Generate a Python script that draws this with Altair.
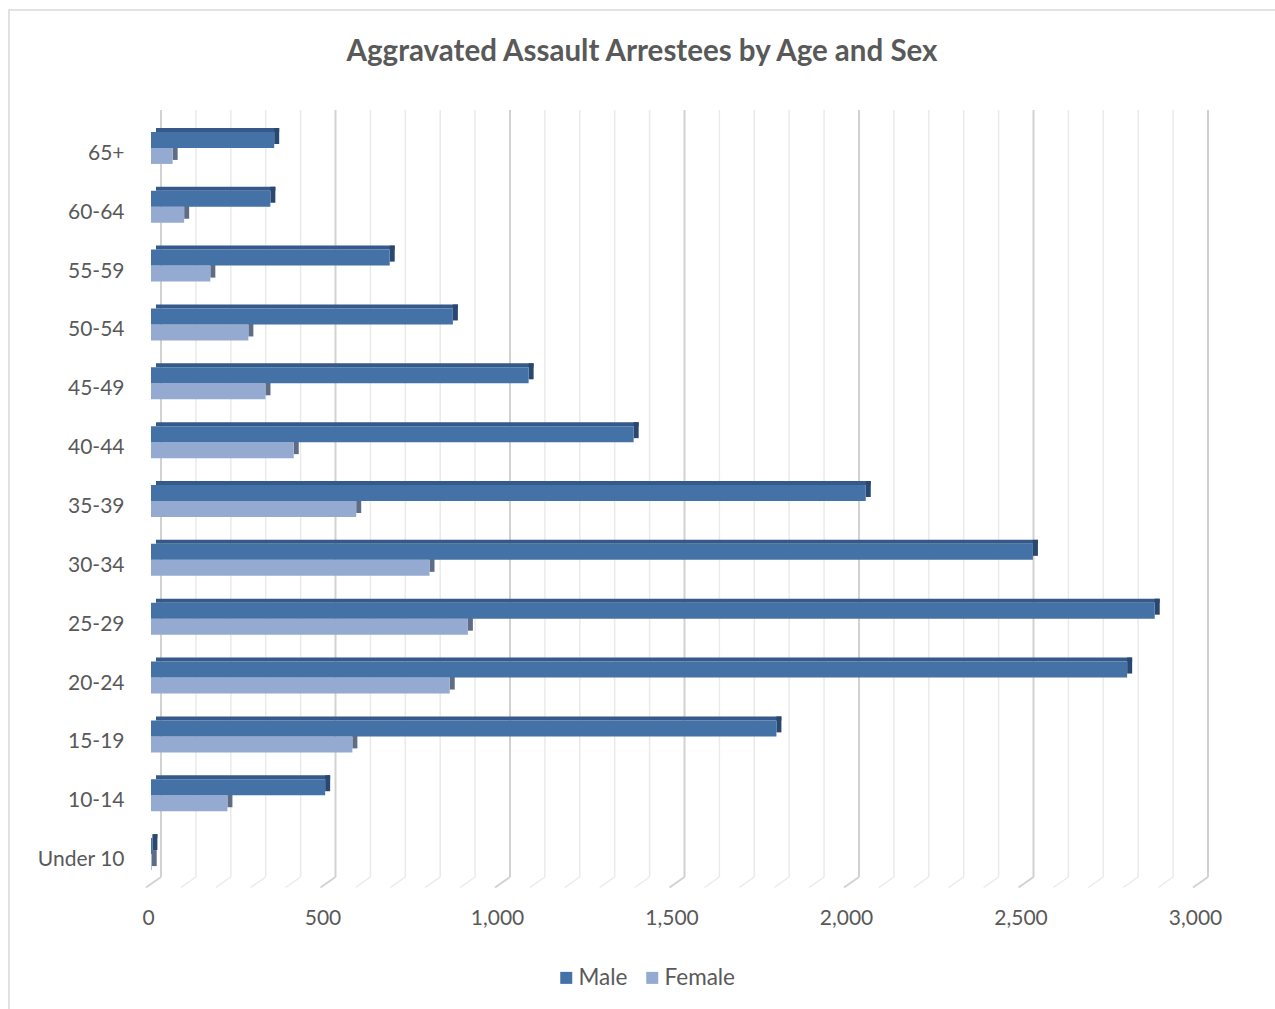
import altair as alt
import pandas as pd

# Arrestee counts by age group (top to bottom) and sex
ages = ["65+", "60-64", "55-59", "50-54", "45-49", "40-44", "35-39",
        "30-34", "25-29", "20-24", "15-19", "10-14", "Under 10"]
male = [353, 342, 684, 865, 1082, 1383, 2048, 2527, 2876, 2797, 1792, 499, 4]
female = [62, 95, 170, 279, 328, 409, 588, 798, 908, 856, 577, 219, 2]
x_ticks = [0, 500, 1000, 1500, 2000, 2500, 3000]

TITLE = "Aggravated Assault Arrestees by Age and Sex"
FONT = "Lato"
TEXT = "#595959"
MALE_FRONT, MALE_TOP, MALE_SIDE = "#4472A6", "#34598A", "#2A4770"
FEMALE_FRONT, FEMALE_SIDE = "#95AAD0", "#5E6C86"

W, H = 1047, 765
PAD = {"left": 151, "top": 122.5, "right": 77, "bottom": 121.5}
DEPTH = 5  # horizontal depth of the extruded bars, px

rows = []
for a, m, f in zip(ages, male, female):
    rows.append({"age": a, "sex": "Male", "count": m})
    rows.append({"age": a, "sex": "Female", "count": f})
df = pd.DataFrame(rows)

grid = pd.DataFrame({"tick": list(range(0, 3001, 100))})
grid["major"] = grid["tick"] % 500 == 0
one = pd.DataFrame({"k": [0]})

x_scale = alt.Scale(domain=[0, 3000], nice=False, zero=True)
y_scale = alt.Scale(domain=ages, paddingInner=0, paddingOuter=0)

X_AXIS = alt.Axis(
    title=None, values=x_ticks, format=",.0f", grid=False, domain=False,
    ticks=False, labelPadding=20, labelOffset=-3, labelFont=FONT,
    labelFontSize=21, labelColor=TEXT, labelFlush=False,
)
Y_AXIS = alt.Axis(
    title=None, ticks=False, domain=False, labelPadding=27, labelOffset=2,
    grid=False, labelFont=FONT, labelFontSize=21, labelColor=TEXT,
)

def X(field="count"):
    return alt.X(f"{field}:Q", scale=x_scale, axis=X_AXIS)

Y = alt.Y("age:N", scale=y_scale, sort=ages, axis=Y_AXIS)

# Border around the whole chart
border = alt.Chart(one).mark_rect(
    fillOpacity=0, stroke="#D9D9D9", strokeWidth=1.5, clip=False
).encode(
    x=alt.value(-142), x2=alt.value(1300),
    y=alt.value(-112.5), y2=alt.value(1000),
)

# Pseudo-3D gridlines: back wall verticals and slanted floor strokes
def grid_layer(major):
    sub = grid[grid["major"] == major]
    color = "#D2D2D2" if major else "#EAEAEA"
    width = 2 if major else 1.5
    wall = alt.Chart(sub).mark_rule(
        color=color, strokeWidth=width, xOffset=10
    ).encode(x=X("tick"), y=alt.value(-12.5), y2=alt.value(754.5))
    floor = alt.Chart(sub).mark_rule(
        color=color, strokeWidth=width, xOffset=10, x2Offset=-5
    ).encode(x=X("tick"), x2="tick:Q", y=alt.value(754.5), y2=alt.value(765))
    return wall + floor

color_enc = alt.Color(
    "sex:N",
    scale=alt.Scale(domain=["Male", "Female"], range=[MALE_FRONT, FEMALE_FRONT]),
    legend=alt.Legend(
        title=None, orient="none", legendX=404, legendY=844,
        direction="horizontal", symbolType="square", symbolSize=144,
        symbolStrokeWidth=0, labelFont=FONT, labelFontSize=22.5,
        labelColor=TEXT, columnPadding=13, labelOffset=1,
    ),
)

def sex_data(sex):
    return alt.Chart(df).transform_filter(alt.datum.sex == sex)

# Male bars: front face centred 12px above the band centre, female 4px below
m_top = sex_data("Male").mark_bar(
    size=4, yOffset=-22, xOffset=DEPTH, x2Offset=DEPTH, color=MALE_TOP
).encode(x=X(), y=Y)
m_side = sex_data("Male").mark_bar(
    size=16, yOffset=-16, xOffset=0, x2Offset=DEPTH, color=MALE_SIDE
).encode(x=X(), x2="count:Q", y=Y)
f_side = sex_data("Female").mark_bar(
    size=16, yOffset=0, xOffset=0, x2Offset=DEPTH, color=FEMALE_SIDE
).encode(x=X(), x2="count:Q", y=Y)
f_face = sex_data("Female").mark_bar(size=16, yOffset=4).encode(
    x=X(), y=Y, color=color_enc
)
m_face = sex_data("Male").mark_bar(size=16, yOffset=-12).encode(
    x=X(), y=Y, color=color_enc
)

title = alt.Chart(one).mark_text(
    text=TITLE, font=FONT, fontSize=29.5, fontWeight="bold", color=TEXT,
    align="center", baseline="middle",
).encode(x=alt.value(491), y=alt.value(-71))

chart = alt.layer(
    border, grid_layer(False), grid_layer(True),
    m_top, f_side, m_side, f_face, m_face, title,
).properties(
    width=W, height=H,
    padding=PAD,
    autosize=alt.AutoSizeParams(type="none"),
    background="white",
).configure_view(stroke=None)

chart.save("out.html", embed_options={"renderer": "svg", "actions": False})
